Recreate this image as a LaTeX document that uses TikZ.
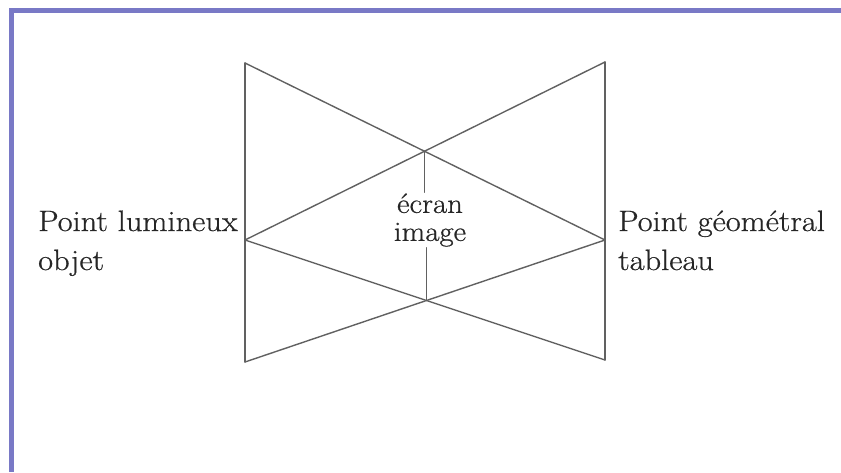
\documentclass[tikz,border=0pt]{standalone}
\usepackage{fontspec}
\newfontfamily\labfont{Latin Modern Roman}[FakeStretch=1.1,FakeBold=0.6]
\begin{document}
\begin{tikzpicture}[x=1pt,y=-1pt,
  edge/.style={draw=black!62,line width=1.4pt,line cap=round,line join=round},
  frame/.style={draw=none,fill=blue!40!gray!75},
  label/.style={inner sep=0pt,font=\labfont\fontsize{29.5}{34}\selectfont,text=black!85},
  midlabel/.style={inner sep=1pt,align=center,font=\labfont\fontsize{28}{28}\selectfont,text=black!85}]
\useasboundingbox[fill=white] (0,0) rectangle (841,472);
% frame
\path[frame] (9,8) rectangle (14,472);
\path[frame] (9,8) rectangle (841,13);
% vertices
\coordinate (tl) at (245,63);
\coordinate (bl) at (245,362);
\coordinate (tr) at (605,62);
\coordinate (br) at (605,360);
\coordinate (ml) at (245,240);
\coordinate (mr) at (605,240);
\coordinate (ct) at (intersection of tl--mr and tr--ml);
\coordinate (cb) at (intersection of ml--br and mr--bl);
% labels
\node[label,anchor=base west] (pl) at (38,231) {Point lumineux};
\node[label,anchor=base west] (ob) at (38,270) {objet};
\node[label,anchor=base west] (pg) at (618,231) {Point géométral};
\node[label,anchor=base west] (tb) at (618,270) {tableau};
\node[midlabel] (scr) at (430,220) {écran\\image};
% lines
\draw[edge] (tl) -- (bl);
\draw[edge] (tr) -- (br);
\draw[edge] (tl) -- (mr);
\draw[edge] (tr) -- (ml);
\draw[edge] (ml) -- (br);
\draw[edge] (mr) -- (bl);
\draw[edge] (ct) -- (ct |- scr.north);
\draw[edge] (cb |- scr.south) -- (cb);
\end{tikzpicture}
\end{document}
